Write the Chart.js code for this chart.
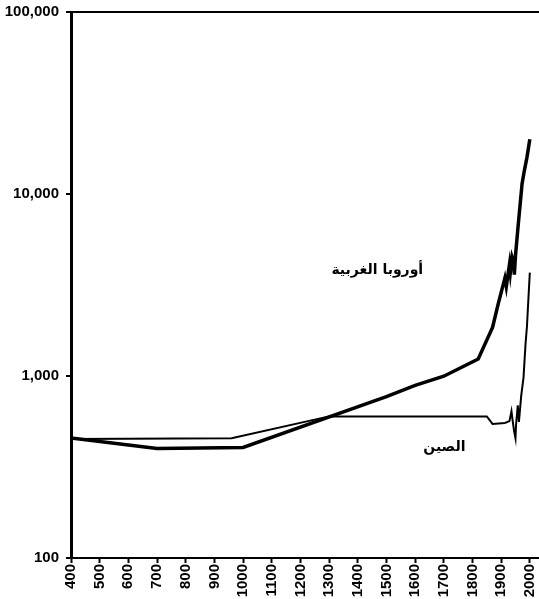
<!DOCTYPE html>
<html>
<head>
<meta charset="utf-8">
<script src="https://cdn.jsdelivr.net/npm/chart.js@4/dist/chart.umd.min.js"></script>
<style>
  body { margin: 0; background: #fff; }
  #wrap { width: 539px; height: 599px; }
</style>
</head>
<body>
<div id="wrap"><canvas id="grafico" width="539" height="599"></canvas></div>
<script>
// data (GDP per capita, log scale)
const weYears  = [400, 700, 1000, 1500, 1600, 1700, 1820, 1870, 1890, 1913, 1918, 1929, 1932, 1938, 1944, 1946, 1950, 1960, 1973, 1980, 1990, 2000];
const weValues = [456, 400, 405, 771, 889, 997, 1240, 1850, 2500, 3450, 3100, 4100, 3700, 4500, 4200, 3600, 4580, 6900, 11400, 13200, 15900, 20000];

const cnYears  = [400, 960, 1300, 1850, 1870, 1913, 1929, 1936, 1940, 1945, 1950, 1952, 1958, 1962, 1970, 1978, 1985, 1990, 1995, 2000];
const cnValues = [450, 455, 600, 600, 545, 552, 565, 640, 570, 500, 455, 540, 690, 560, 780, 980, 1500, 1870, 2650, 3700];

const yTicks = [100, 1000, 10000, 100000];

const seriesLabels = ['أوروبا الغربية', 'الصين'];
// where the text labels sit, in data units
const labelSpots = [{ x: 1468, y: 3800 }, { x: 1702, y: 405 }];

function pts(xs, ys) {
  return xs.map((x, i) => ({ x: x, y: ys[i] }));
}

const textLabels = {
  id: 'textLabels',
  afterDatasetsDraw(chart) {
    const c = chart.ctx;
    c.save();
    c.fillStyle = '#000';
    c.font = 'bold 14px "DejaVu Sans"';
    c.textAlign = 'center';
    c.textBaseline = 'middle';
    c.direction = 'rtl';
    seriesLabels.forEach((t, i) => {
      const px = chart.scales.x.getPixelForValue(labelSpots[i].x);
      const py = chart.scales.y.getPixelForValue(labelSpots[i].y);
      c.fillText(t, px, py);
    });
    c.restore();
  }
};

function init() {
  const grafico = document.getElementById('grafico');
  new Chart(grafico, {
    type: 'line',
    data: {
      datasets: [
        {
          label: seriesLabels[0],
          data: pts(weYears, weValues),
          borderColor: '#000',
          borderWidth: 3.5,
          pointRadius: 0,
          tension: 0
        },
        {
          label: seriesLabels[1],
          data: pts(cnYears, cnValues),
          borderColor: '#000',
          borderWidth: 2,
          pointRadius: 0,
          tension: 0
        }
      ]
    },
    options: {
      responsive: false,
      animation: false,
      layout: { padding: { top: 12, right: 0, left: 0, bottom: 0 } },
      plugins: {
        legend: { display: false },
        tooltip: { enabled: false }
      },
      scales: {
        x: {
          type: 'linear',
          min: 400,
          max: 2032,
          afterFit: s => { s.height = 41; s.paddingRight = 0; s.paddingLeft = 0; },
          afterBuildTicks: s => { s.ticks = s.ticks.filter(t => t.value % 100 === 0); },
          border: { color: '#000', width: 2 },
          grid: { color: 'transparent', tickColor: '#000', tickLength: 5, tickWidth: 2 },
          ticks: {
            stepSize: 100,
            includeBounds: false,
            minRotation: 90,
            maxRotation: 90,
            padding: 1,
            color: '#000',
            font: { family: '"Liberation Sans", Arial', size: 15, weight: 'bold' },
            callback: v => String(v)
          }
        },
        y: {
          type: 'logarithmic',
          min: 100,
          max: 100000,
          afterFit: s => { s.width = 71; s.paddingTop = 0; s.paddingBottom = 0; },
          afterBuildTicks: s => { s.ticks = yTicks.map(v => ({ value: v })); },
          border: { color: '#000', width: 3 },
          grid: {
            color: ctx => (ctx.tick && ctx.tick.value === 100000 ? '#000' : 'transparent'),
            lineWidth: 2,
            tickColor: '#000',
            tickLength: 5,
            tickWidth: 2
          },
          ticks: {
            padding: 7,
            color: '#000',
            font: { family: '"Liberation Sans", Arial', size: 15, weight: 'bold' },
            callback: v => Number(v).toLocaleString('en-US')
          }
        }
      }
    },
    plugins: [textLabels]
  });
}

init();
</script>
</body>
</html>
